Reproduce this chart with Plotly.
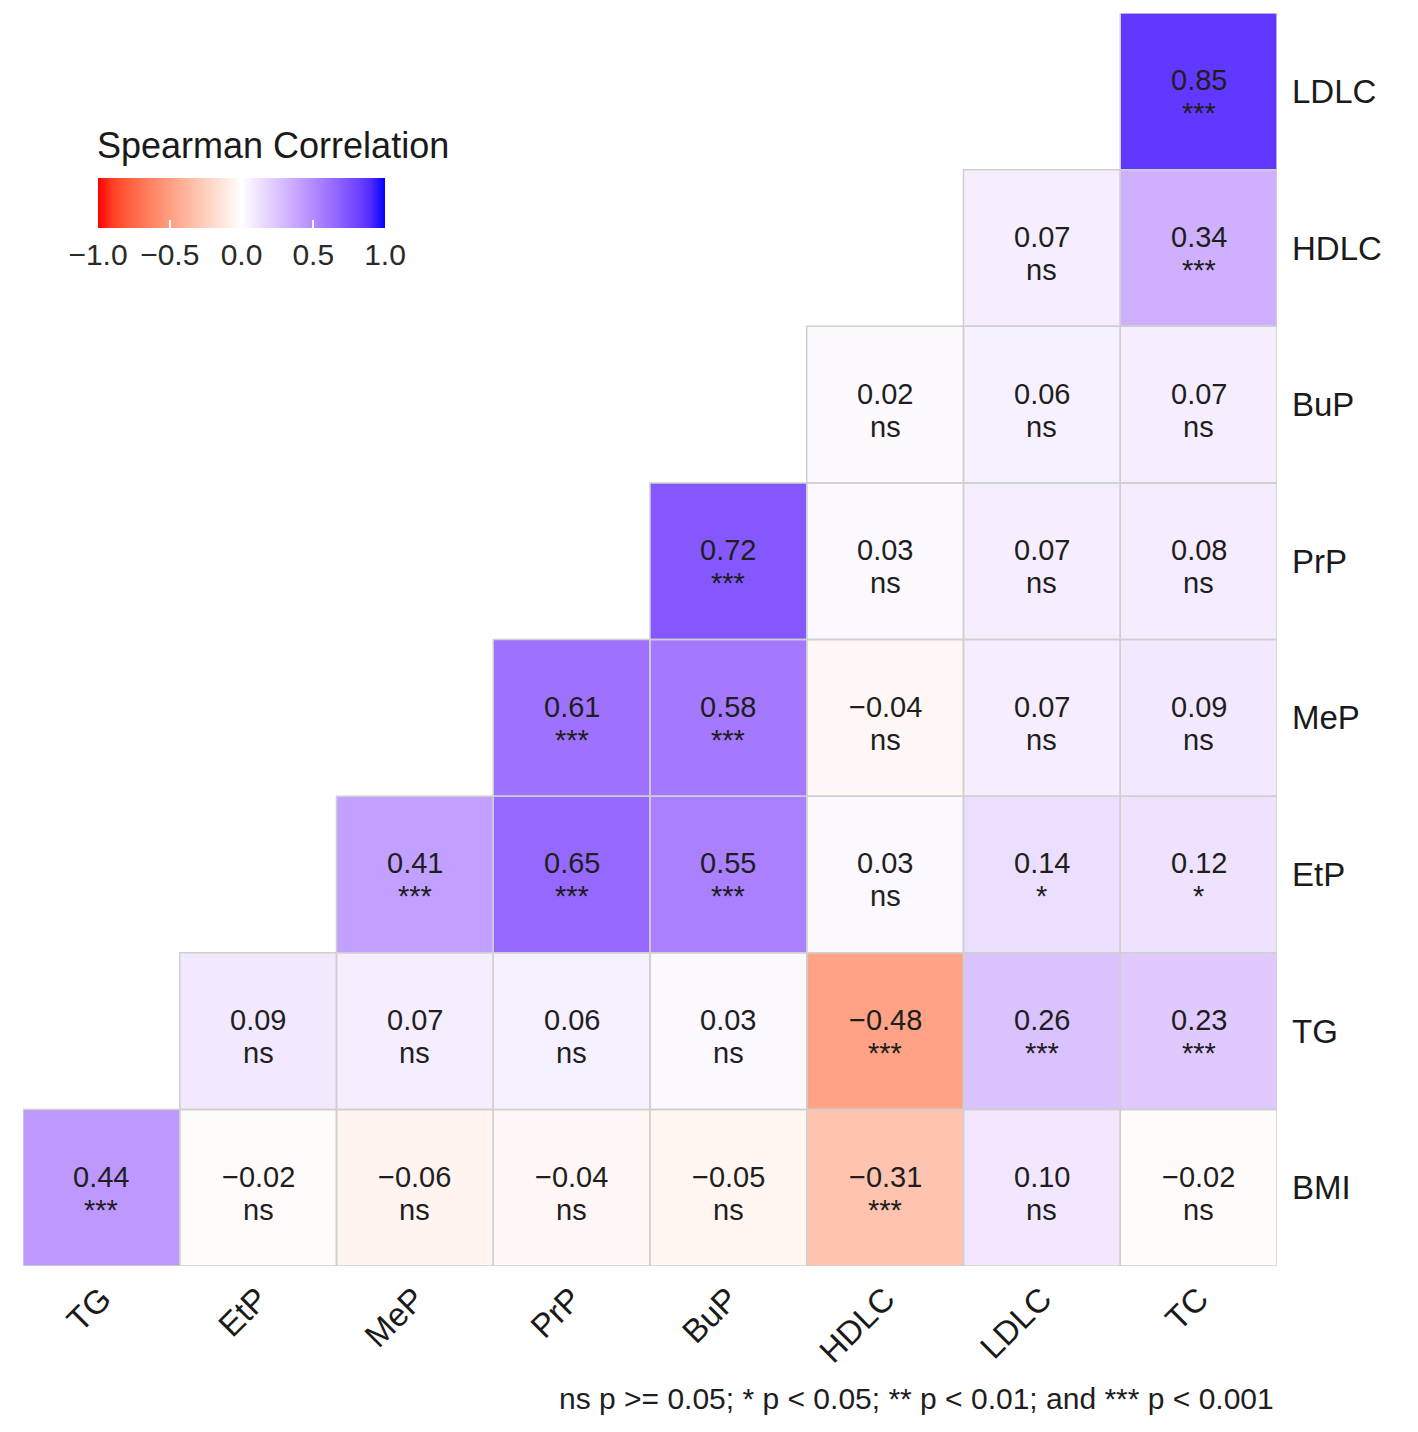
import numpy as np
import plotly.graph_objects as go

# categories
x_vars = ["TG", "EtP", "MeP", "PrP", "BuP", "HDLC", "LDLC", "TC"]
y_vars = ["BMI", "TG", "EtP", "MeP", "PrP", "BuP", "HDLC", "LDLC"]  # bottom -> top

# correlation values per row (None = upper triangle, not shown)
r_bmi = [0.44, -0.02, -0.06, -0.04, -0.05, -0.31, 0.10, -0.02]
r_tg = [None, 0.09, 0.07, 0.06, 0.03, -0.48, 0.26, 0.23]
r_etp = [None, None, 0.41, 0.65, 0.55, 0.03, 0.14, 0.12]
r_mep = [None, None, None, 0.61, 0.58, -0.04, 0.07, 0.09]
r_prp = [None, None, None, None, 0.72, 0.03, 0.07, 0.08]
r_bup = [None, None, None, None, None, 0.02, 0.06, 0.07]
r_hdlc = [None, None, None, None, None, None, 0.07, 0.34]
r_ldlc = [None, None, None, None, None, None, None, 0.85]

# significance labels per row
s_bmi = ["***", "ns", "ns", "ns", "ns", "***", "ns", "ns"]
s_tg = [None, "ns", "ns", "ns", "ns", "***", "***", "***"]
s_etp = [None, None, "***", "***", "***", "ns", "*", "*"]
s_mep = [None, None, None, "***", "***", "ns", "ns", "ns"]
s_prp = [None, None, None, None, "***", "ns", "ns", "ns"]
s_bup = [None, None, None, None, None, "ns", "ns", "ns"]
s_hdlc = [None, None, None, None, None, None, "ns", "***"]
s_ldlc = [None, None, None, None, None, None, None, "***"]

cb_ticks = [-1.0, -0.5, 0.0, 0.5, 1.0]
cb_labels = ["\u22121.0", "\u22120.5", "0.0", "0.5", "1.0"]
legend_title = "Spearman Correlation"
footnote = "ns p >= 0.05; * p < 0.05; ** p < 0.01; and *** p < 0.001"

z = [r_bmi, r_tg, r_etp, r_mep, r_prp, r_bup, r_hdlc, r_ldlc]
sig = [s_bmi, s_tg, s_etp, s_mep, s_prp, s_bup, s_hdlc, s_ldlc]


def fmt(v):
    return f"{v:.2f}".replace("-", "\u2212")


# red - white - blue gradient interpolated in Lab space (like ggplot2 gradient2)
def srgb_to_lab(c):
    c = np.array(c, dtype=float) / 255
    c = np.where(c > 0.04045, ((c + 0.055) / 1.055) ** 2.4, c / 12.92)
    m = np.array([[0.4124, 0.3576, 0.1805],
                  [0.2126, 0.7152, 0.0722],
                  [0.0193, 0.1192, 0.9505]])
    xyz = m @ c / np.array([0.95047, 1.0, 1.08883])
    f = np.where(xyz > 0.008856, np.cbrt(xyz), 7.787 * xyz + 16 / 116)
    return np.array([116 * f[1] - 16, 500 * (f[0] - f[1]), 200 * (f[1] - f[2])])


def lab_to_srgb(lab):
    L, a, b = lab
    fy = (L + 16) / 116
    fx = fy + a / 500
    fz = fy - b / 200
    f = np.array([fx, fy, fz])
    xyz = np.where(f ** 3 > 0.008856, f ** 3, (f - 16 / 116) / 7.787)
    xyz = xyz * np.array([0.95047, 1.0, 1.08883])
    m = np.array([[3.2406, -1.5372, -0.4986],
                  [-0.9689, 1.8758, 0.0415],
                  [0.0557, -0.2040, 1.0570]])
    c = m @ xyz
    c = np.where(c > 0.0031308, 1.055 * np.clip(c, 0, None) ** (1 / 2.4) - 0.055, 12.92 * c)
    c = np.clip(c, 0, 1) * 255
    return "rgb(%d,%d,%d)" % tuple(np.round(c).astype(int))


red, white, blue = srgb_to_lab([255, 0, 0]), srgb_to_lab([255, 255, 255]), srgb_to_lab([0, 0, 255])
colorscale = []
for t in np.linspace(0, 1, 21):
    if t <= 0.5:
        lab = red + (white - red) * (t / 0.5)
    else:
        lab = white + (blue - white) * ((t - 0.5) / 0.5)
    colorscale.append([float(t), lab_to_srgb(lab)])

FONT = "Liberation Sans, Arial, sans-serif"

# page has an 8px body margin; plot area targets x 23..1277, y 13..1266 on screen
W, H = 1402, 1416
ML, MR, MT, MB = 15, 133, 5, 158
PW, PH = W - ML - MR, H - MT - MB


def px_x(px):
    return (px - 8 - ML) / PW


def px_y(py):
    return (H - MB - (py - 8)) / PH


fig = go.Figure()
fig.add_trace(go.Heatmap(
    x=x_vars,
    y=y_vars,
    z=z,
    colorscale=colorscale,
    zmin=-1, zmax=1,
    hoverongaps=False,
    colorbar=dict(
        orientation="h",
        x=px_x(98), xanchor="left",
        y=px_y(178), yanchor="top",
        len=287, lenmode="pixels",
        xpad=0, ypad=0,
        thickness=50,
        outlinewidth=0,
        tickvals=cb_ticks,
        ticktext=cb_labels,
        tickfont=dict(family=FONT, size=30, color="#2a2a2a"),
        ticks="inside", ticklen=8, tickcolor="white", tickwidth=2,
    ),
))

# light grey cell borders plus the two-line cell labels
for j, row in enumerate(z):
    for i, v in enumerate(row):
        if v is None:
            continue
        fig.add_shape(type="rect", xref="x", yref="y",
                      x0=i - 0.5, x1=i + 0.5, y0=j - 0.5, y1=j + 0.5,
                      line=dict(color="#cfcfcf", width=1.5))
        fig.add_annotation(x=x_vars[i], y=y_vars[j], text=fmt(v), showarrow=False,
                           yshift=11, font=dict(family=FONT, size=29, color="#1e1e1e"))
        fig.add_annotation(x=x_vars[i], y=y_vars[j], text=sig[j][i], showarrow=False,
                           yshift=-22, font=dict(family=FONT, size=29, color="#1e1e1e"))

fig.add_annotation(text=legend_title, xref="paper", yref="paper",
                   x=px_x(95), y=px_y(145), xanchor="left", yanchor="middle",
                   showarrow=False, font=dict(family=FONT, size=36, color="#1a1a1a"))

fig.add_annotation(text=footnote, xref="paper", yref="paper",
                   x=px_x(1276), y=px_y(1398), xanchor="right", yanchor="middle",
                   showarrow=False, font=dict(family=FONT, size=30, color="#1e1e1e"))

fig.update_layout(
    width=W, height=H,
    margin=dict(l=ML, r=MR, t=MT, b=MB),
    paper_bgcolor="white",
    plot_bgcolor="white",
    font=dict(family=FONT),
    xaxis=dict(range=[-0.5, 7.5], showgrid=False, zeroline=False, ticks="",
               tickangle=-45, ticklabelstandoff=6,
               tickfont=dict(family=FONT, size=33, color="#1a1a1a")),
    yaxis=dict(range=[-0.5, 7.5], showgrid=False, zeroline=False, ticks="",
               side="right", ticklabelstandoff=14,
               tickfont=dict(family=FONT, size=33, color="#1a1a1a")),
)

fig.write_html("out.html")
